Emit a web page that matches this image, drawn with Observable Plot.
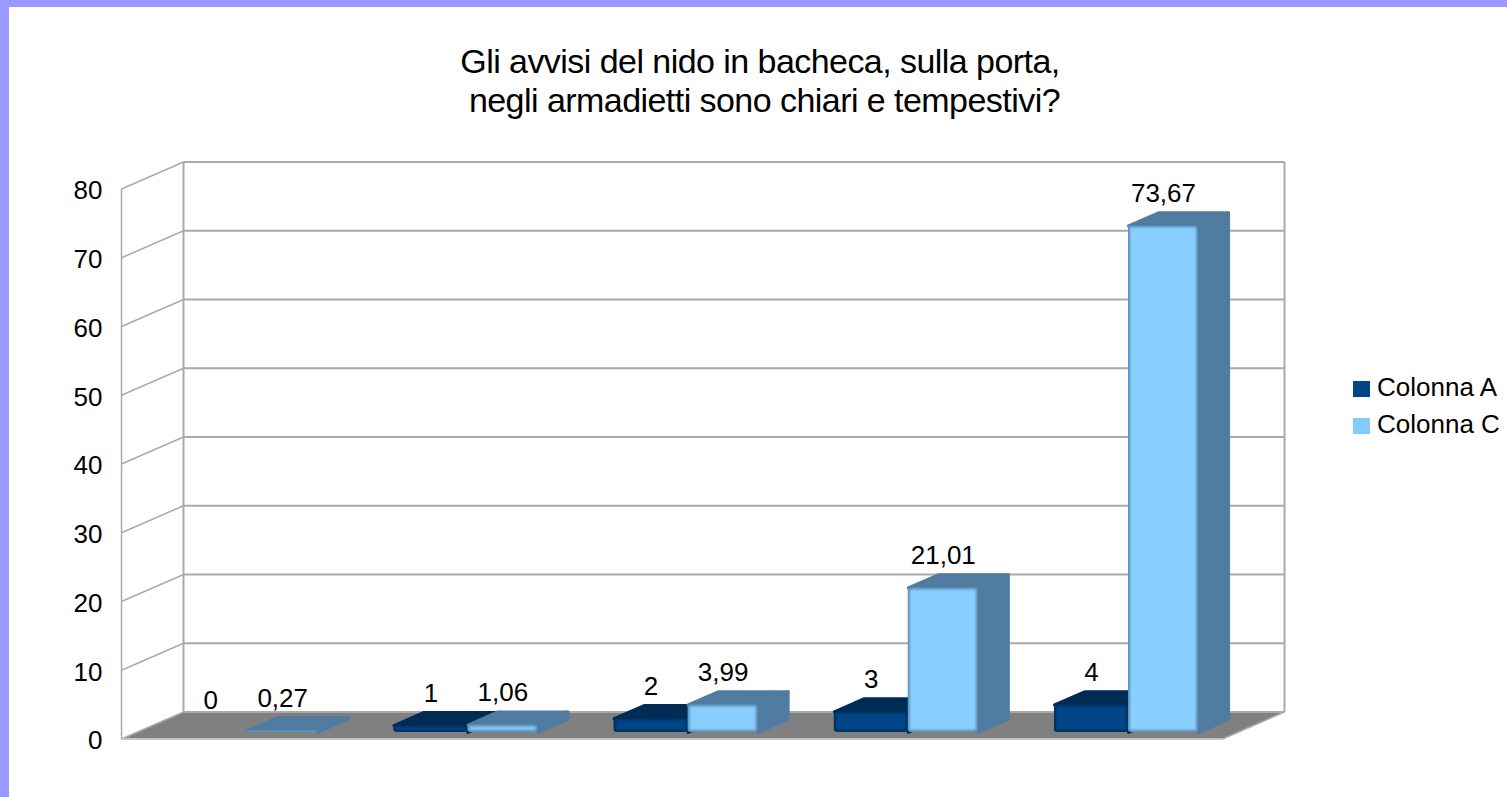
<!DOCTYPE html>
<html lang="it">
<head>
<meta charset="utf-8">
<script src="https://cdn.jsdelivr.net/npm/d3@7"></script>
<script src="https://cdn.jsdelivr.net/npm/@observablehq/plot@0.6"></script>
<style>
  html, body { margin: 0; padding: 0; background: #fff; overflow: hidden; }
  body { width: 1507px; height: 797px; box-sizing: border-box; border-top: 7px solid #9999ff; border-left: 9px solid #9999ff; position: relative; font-family: "Liberation Sans", Arial, sans-serif; color: #000; }
  #title { height: 123px; box-sizing: border-box; padding-top: 35px; padding-left: 4px; text-align: center; font-size: 34px; line-height: 39px; white-space: pre; letter-spacing: -0.55px; }
  #chart svg { display: block; }
  #legend { position: absolute; left: 1344px; top: 362px; font-size: 26px; }
  #legend div { height: 37px; line-height: 36px; white-space: nowrap; }
  #legend i { display: inline-block; width: 17px; height: 16px; margin-right: 7px; vertical-align: -1px; }
</style>
</head>
<body>
<div id="title">Gli avvisi del nido in bacheca, sulla porta,
 negli armadietti sono chiari e tempestivi?</div>
<div id="chart"></div>
<div id="legend"></div>
<script>
// Data
const seriesNames = ["Colonna A", "Colonna C"];
const seriesColors = ["#004586", "#83caff"];
const faceColors = ["#004586", "#88cfff"];
const edgeColors = ["#00305e", "#5c90ba"];
const topColors = ["#002b55", "#4f7ca0"];
const colonnaA = [0, 1, 2, 3, 4];
const colonnaC = [0.27, 1.06, 3.99, 21.01, 73.67];
const yTicks = [0, 10, 20, 30, 40, 50, 60, 70, 80];

// Oblique depth vector of the chart's box, in data units
const depthX = 0.2816, depthY = 3.93;
const nearDepth = 0.245, farDepth = 0.73;
const slotEdges = [[0.168, 0.504], [0.504, 0.822]];
const P = (x, y, d) => ({x: x + d * depthX, y: y + d * depthY});

const bars = [];
[colonnaA, colonnaC].forEach((vals, s) => vals.forEach((v, i) => {
  bars.push({s, i, v, x1: i + slotEdges[s][0], x2: i + slotEdges[s][1]});
}));
const drawn = bars.filter(b => b.v > 0);

const polys = [];
drawn.forEach((b, k) => {
  const shade = topColors[b.s];
  const add = (name, pts) => pts.concat(pts[0]).forEach(p => polys.push({...p, z: k + name, color: shade}));
  add("side", [P(b.x2, b.v, nearDepth), P(b.x2, b.v, farDepth), P(b.x2, 0, farDepth), P(b.x2, 0, nearDepth)]);
  add("top", [P(b.x1, b.v, nearDepth), P(b.x1, b.v, farDepth), P(b.x2, b.v, farDepth), P(b.x2, b.v, nearDepth)]);
});

const floor = [P(0,0,0), P(0,0,1), P(5,0,1), P(5,0,0), P(0,0,0)];
const fronts = drawn.map(b => {
  const a = P(b.x1, 0, nearDepth), c = P(b.x2, b.v, nearDepth);
  return {s: b.s, x1: a.x, x2: c.x, y1: a.y, y2: c.y, edge: edgeColors[b.s], fill: faceColors[b.s]};
});
const labels = bars.map(b => {
  const p = P((b.x1 + b.x2) / 2, b.v, farDepth);
  return {x: (b.x1 + b.x2) / 2 + nearDepth * depthX, y: p.y, text: String(b.v).replace(".", ",")};
});
const grid = "#aaaaaa";

const plot = Plot.plot({
  width: 1498, height: 667,
  marginLeft: 112, marginRight: 285, marginTop: 58.5, marginBottom: 58.5,
  x: {domain: [0, 5], axis: null},
  y: {domain: [0, 80], label: null},
  marks: [
    // floor
    Plot.line(floor, {x: "x", y: "y", fill: "#808080", stroke: "none"}),
    // back wall gridlines, side wall slants
    Plot.link(yTicks, {x1: depthX, x2: 5 + depthX, y1: d => d + depthY, y2: d => d + depthY, stroke: grid, strokeWidth: 2}),
    Plot.link(yTicks, {x1: 0, x2: depthX, y1: d => d, y2: d => d + depthY, stroke: grid, strokeWidth: 1.5}),
    Plot.link([0], {x1: 0, x2: 0, y1: 0, y2: 80, stroke: grid, strokeWidth: 1.5}),
    Plot.link([0], {x1: depthX, x2: depthX, y1: depthY, y2: 80 + depthY, stroke: grid, strokeWidth: 2}),
    Plot.link([0], {x1: 5 + depthX, x2: 5 + depthX, y1: depthY, y2: 80 + depthY, stroke: grid, strokeWidth: 2}),
    Plot.link([0], {x1: 5, x2: 5 + depthX, y1: 0, y2: depthY, stroke: grid, strokeWidth: 1.5}),
    Plot.link([0], {x1: 0, x2: 5, y1: 0, y2: 0, stroke: "#c4c4c4", strokeWidth: 2}),
    // bars: side and top faces
    Plot.line(polys, {x: "x", y: "y", z: "z", fill: "color", stroke: "color", strokeWidth: 3, strokeLinejoin: "round"}),
    // bars: front faces, soft edge and inner fill
    Plot.rect(fronts, {x1: "x1", x2: "x2", y1: "y1", y2: "y2", fill: "edge", rx: 3, imageFilter: "blur(0.5px)"}),
    Plot.rect(fronts, {x1: "x1", x2: "x2", y1: "y1", y2: "y2", fill: "fill", inset: 2, imageFilter: "blur(1px)"}),
    // value labels
    Plot.text(labels, {x: "x", y: "y", text: "text", dy: -19, fontSize: 26, fill: "#000", fontFamily: "Liberation Sans"}),
    Plot.axisY({ticks: yTicks, tickSize: 0, tickPadding: 19, anchor: "left", fontSize: 26, fill: "#000", label: null, dy: 2, fontFamily: "Liberation Sans"})
  ]
});
document.getElementById("chart").append(plot);

const legend = document.getElementById("legend");
seriesNames.forEach((n, i) => {
  const row = document.createElement("div");
  const sw = document.createElement("i");
  sw.style.background = seriesColors[i];
  row.append(sw, n);
  legend.append(row);
});
</script>
</body>
</html>
